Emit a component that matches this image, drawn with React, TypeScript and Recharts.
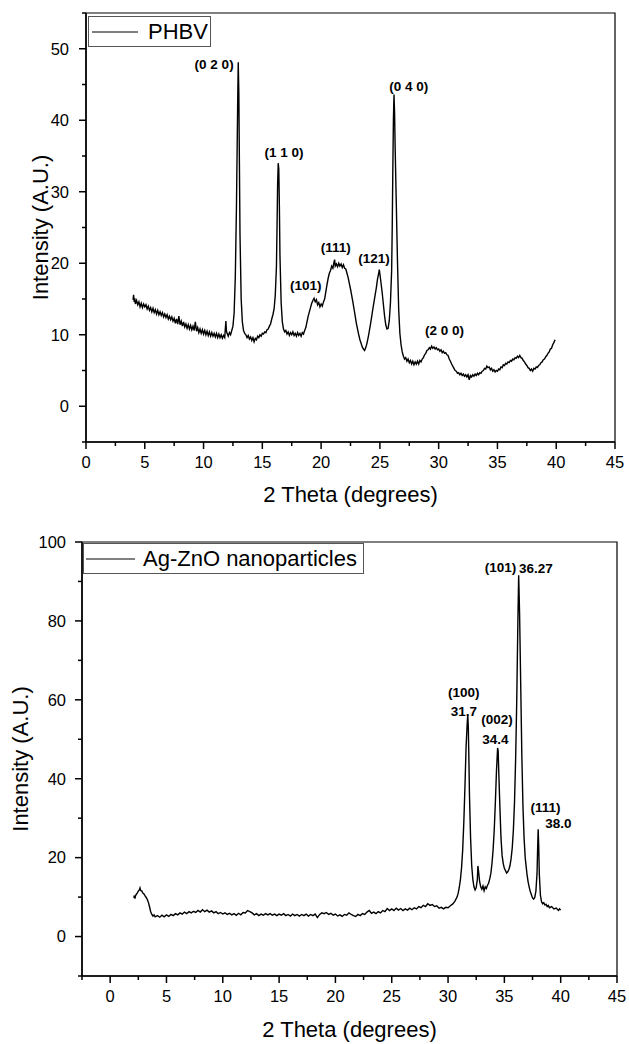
import React from "react";
import {
  LineChart,
  Line,
  XAxis,
  YAxis,
  Legend,
  ReferenceArea,
  ReferenceDot,
} from "recharts";

const FONT = "'Liberation Sans', Arial, Helvetica, sans-serif";

// PHBV pattern: [2θ (deg), intensity (A.U.)]
const phbvPoints: [number, number][] = [
  [4.0, 14.9], [4.05, 15.6], [4.1, 14.6], [4.15, 15.1], [4.2, 14.3], [4.3, 14.8], [4.4, 14.2], [4.5, 14.6],
  [4.6, 13.9], [4.7, 14.4], [4.8, 13.8], [4.9, 14.3], [5.0, 13.9], [5.1, 14.2], [5.2, 13.6], [5.3, 14.0],
  [5.4, 13.4], [5.5, 13.8], [5.6, 13.2], [5.7, 13.7], [5.8, 13.1], [5.9, 13.5], [6.0, 12.9], [6.1, 13.4],
  [6.2, 12.8], [6.3, 13.2], [6.4, 12.7], [6.5, 13.1], [6.6, 12.5], [6.7, 12.9], [6.8, 12.4], [6.9, 12.8],
  [7.0, 12.2], [7.1, 12.6], [7.2, 12.1], [7.3, 12.5], [7.4, 11.9], [7.5, 12.3], [7.6, 11.6], [7.7, 12.2],
  [7.8, 11.5], [7.9, 12.6], [8.0, 11.4], [8.1, 11.9], [8.2, 11.2], [8.3, 11.8], [8.4, 11.1], [8.5, 11.5],
  [8.6, 10.9], [8.7, 11.4], [8.8, 10.8], [8.9, 11.3], [9.0, 10.7], [9.1, 11.2], [9.2, 10.6], [9.3, 11.8],
  [9.4, 10.5], [9.5, 11.0], [9.6, 10.3], [9.7, 10.8], [9.8, 10.2], [9.9, 10.7], [10.0, 10.1], [10.1, 10.6],
  [10.2, 10.0], [10.3, 10.5], [10.4, 9.9], [10.5, 10.4], [10.6, 9.8], [10.7, 10.3], [10.8, 9.8], [10.9, 10.2],
  [11.0, 9.7], [11.1, 10.2], [11.2, 9.6], [11.3, 10.1], [11.4, 9.6], [11.5, 10.0], [11.6, 9.5], [11.7, 9.9],
  [11.8, 9.6], [11.9, 11.9], [11.95, 10.5], [12.0, 10.2], [12.1, 9.8], [12.2, 10.3], [12.3, 10.0], [12.4, 10.6],
  [12.5, 11.2], [12.6, 13.0], [12.7, 18.0], [12.8, 28.0], [12.9, 42.0], [12.95, 48.1], [13.0, 44.0], [13.05, 34.0],
  [13.1, 24.0], [13.2, 15.0], [13.3, 11.8], [13.4, 10.6], [13.5, 10.2], [13.6, 10.0], [13.7, 9.6], [13.8, 9.9],
  [13.9, 9.4], [14.0, 9.7], [14.1, 9.2], [14.2, 9.6], [14.3, 9.0], [14.4, 9.5], [14.5, 9.3], [14.6, 9.8],
  [14.7, 9.6], [14.8, 10.0], [14.9, 9.8], [15.0, 10.2], [15.1, 10.1], [15.2, 10.4], [15.3, 10.3], [15.4, 10.7],
  [15.5, 10.8], [15.6, 11.2], [15.7, 11.5], [15.8, 12.2], [15.9, 12.8], [16.0, 13.6], [16.1, 15.5], [16.2, 19.5],
  [16.25, 25.0], [16.3, 31.0], [16.35, 34.0], [16.4, 33.2], [16.45, 28.0], [16.5, 21.0], [16.6, 14.5], [16.7, 11.8],
  [16.8, 10.8], [16.9, 10.4], [17.0, 10.6], [17.1, 10.1], [17.2, 10.4], [17.3, 9.9], [17.4, 10.3], [17.5, 10.0],
  [17.6, 10.4], [17.7, 9.9], [17.8, 10.2], [17.9, 9.8], [18.0, 10.3], [18.1, 9.9], [18.2, 10.2], [18.3, 9.8],
  [18.4, 10.3], [18.5, 10.1], [18.6, 10.6], [18.7, 11.0], [18.8, 11.8], [18.9, 12.6], [19.0, 13.2], [19.1, 13.8],
  [19.2, 14.4], [19.3, 14.8], [19.4, 15.1], [19.5, 14.6], [19.6, 14.9], [19.7, 14.2], [19.8, 14.5], [19.9, 13.9],
  [20.0, 14.3], [20.1, 14.0], [20.2, 14.6], [20.3, 15.0], [20.4, 16.0], [20.5, 17.0], [20.6, 17.9], [20.7, 18.6],
  [20.8, 19.0], [20.9, 19.6], [21.0, 19.3], [21.1, 20.2], [21.15, 20.5], [21.2, 19.6], [21.3, 19.9], [21.4, 19.5],
  [21.5, 20.0], [21.6, 19.6], [21.7, 19.9], [21.8, 19.4], [21.9, 19.8], [22.0, 19.3], [22.1, 19.2], [22.2, 18.6],
  [22.3, 18.0], [22.4, 17.2], [22.5, 16.4], [22.6, 15.5], [22.7, 14.6], [22.8, 13.6], [22.9, 12.6], [23.0, 11.6],
  [23.1, 10.8], [23.2, 10.0], [23.3, 9.3], [23.4, 8.8], [23.5, 8.3], [23.6, 8.0], [23.7, 7.8], [23.8, 8.2],
  [23.9, 8.8], [24.0, 9.6], [24.1, 10.5], [24.2, 11.5], [24.3, 12.5], [24.4, 13.6], [24.5, 14.6], [24.6, 15.6],
  [24.7, 16.6], [24.8, 17.8], [24.9, 18.6], [24.95, 19.1], [25.0, 18.5], [25.1, 17.2], [25.2, 15.8], [25.3, 14.2],
  [25.4, 12.6], [25.5, 11.4], [25.6, 10.8], [25.7, 10.9], [25.8, 12.0], [25.9, 14.5], [26.0, 19.0], [26.05, 25.0],
  [26.1, 33.0], [26.15, 40.0], [26.2, 43.6], [26.25, 41.0], [26.3, 36.0], [26.4, 28.0], [26.5, 20.0], [26.6, 13.5],
  [26.7, 10.2], [26.8, 8.6], [26.9, 7.6], [27.0, 7.0], [27.1, 6.6], [27.2, 6.8], [27.3, 6.3], [27.4, 6.6],
  [27.5, 6.1], [27.6, 6.4], [27.7, 5.9], [27.8, 6.3], [27.9, 5.8], [28.0, 6.2], [28.1, 5.9], [28.2, 6.3],
  [28.3, 5.9], [28.4, 6.4], [28.5, 6.2], [28.6, 6.6], [28.7, 6.8], [28.8, 7.2], [28.9, 7.4], [29.0, 7.8],
  [29.1, 7.9], [29.2, 8.2], [29.3, 8.0], [29.4, 8.4], [29.5, 8.1], [29.6, 8.3], [29.7, 8.0], [29.8, 8.2],
  [29.9, 7.9], [30.0, 8.0], [30.1, 7.7], [30.2, 7.9], [30.3, 7.5], [30.4, 7.7], [30.5, 7.4], [30.6, 7.5],
  [30.7, 7.2], [30.8, 7.1], [30.9, 6.6], [31.0, 6.3], [31.1, 5.9], [31.2, 5.6], [31.3, 5.3], [31.4, 5.0],
  [31.5, 4.9], [31.6, 4.6], [31.7, 4.7], [31.8, 4.4], [31.9, 4.6], [32.0, 4.3], [32.1, 4.5], [32.2, 4.2],
  [32.3, 4.4], [32.4, 4.1], [32.5, 4.4], [32.6, 3.7], [32.7, 4.3], [32.8, 4.1], [32.9, 4.4], [33.0, 4.2],
  [33.1, 4.5], [33.2, 4.3], [33.3, 4.6], [33.4, 4.4], [33.5, 4.7], [33.6, 4.6], [33.7, 4.9], [33.8, 5.0],
  [33.9, 5.3], [34.0, 5.2], [34.1, 5.6], [34.2, 5.4], [34.3, 5.5], [34.4, 5.1], [34.5, 5.3], [34.6, 4.9],
  [34.7, 5.1], [34.8, 4.8], [34.9, 5.0], [35.0, 4.9], [35.1, 5.2], [35.2, 5.1], [35.3, 5.5], [35.4, 5.4],
  [35.5, 5.8], [35.6, 5.7], [35.7, 6.0], [35.8, 5.9], [35.9, 6.2], [36.0, 6.1], [36.1, 6.4], [36.2, 6.3],
  [36.3, 6.6], [36.4, 6.5], [36.5, 6.8], [36.6, 6.7], [36.7, 7.0], [36.8, 6.8], [36.9, 7.1], [37.0, 6.8],
  [37.1, 6.7], [37.2, 6.4], [37.3, 6.2], [37.4, 5.9], [37.5, 5.7], [37.6, 5.4], [37.7, 5.3], [37.8, 5.0],
  [37.9, 5.2], [38.0, 4.9], [38.1, 5.3], [38.2, 5.2], [38.3, 5.5], [38.4, 5.4], [38.5, 5.7], [38.6, 5.8],
  [38.7, 6.1], [38.8, 6.2], [38.9, 6.5], [39.0, 6.6], [39.1, 6.9], [39.2, 7.1], [39.3, 7.4], [39.4, 7.6],
  [39.5, 8.0], [39.6, 8.1], [39.7, 8.6], [39.8, 8.9], [39.9, 9.3],
];

// Ag-ZnO nanoparticles pattern
const agZnoPoints: [number, number][] = [
  [2.1, 9.8], [2.15, 10.4], [2.2, 9.6], [2.25, 10.3], [2.3, 10.6], [2.4, 11.0], [2.5, 11.5], [2.6, 11.9],
  [2.65, 12.3], [2.7, 11.7], [2.8, 11.6], [2.9, 11.0], [3.0, 10.8], [3.1, 10.3], [3.2, 9.9], [3.3, 9.4],
  [3.4, 8.6], [3.5, 7.5], [3.6, 6.3], [3.7, 5.6], [3.8, 5.2], [3.9, 5.5], [4.0, 5.0], [4.2, 5.3],
  [4.4, 4.9], [4.6, 5.4], [4.8, 5.0], [5.0, 5.5], [5.2, 5.1], [5.4, 5.6], [5.6, 5.3], [5.8, 5.8],
  [6.0, 5.5], [6.2, 6.0], [6.4, 5.7], [6.6, 6.2], [6.8, 5.8], [7.0, 6.3], [7.2, 6.0], [7.4, 6.4],
  [7.6, 6.1], [7.8, 6.6], [8.0, 6.2], [8.2, 6.8], [8.4, 6.3], [8.6, 6.7], [8.8, 6.2], [9.0, 6.5],
  [9.2, 6.0], [9.4, 6.3], [9.6, 5.8], [9.8, 6.1], [10.0, 5.7], [10.2, 6.0], [10.4, 5.6], [10.6, 5.9],
  [10.8, 5.5], [11.0, 5.8], [11.2, 5.4], [11.4, 5.9], [11.6, 5.5], [11.8, 6.1], [12.0, 6.0], [12.2, 6.6],
  [12.4, 6.3], [12.6, 6.0], [12.8, 5.5], [13.0, 5.8], [13.2, 5.3], [13.4, 5.7], [13.6, 5.4], [13.8, 5.8],
  [14.0, 5.5], [14.2, 5.8], [14.4, 5.4], [14.6, 5.7], [14.8, 5.3], [15.0, 5.7], [15.2, 5.4], [15.4, 5.8],
  [15.6, 5.3], [15.8, 5.6], [16.0, 5.2], [16.2, 5.7], [16.4, 5.3], [16.6, 5.6], [16.8, 5.2], [17.0, 5.6],
  [17.2, 5.3], [17.4, 5.7], [17.6, 5.2], [17.8, 5.6], [18.0, 5.3], [18.2, 5.7], [18.4, 4.8], [18.6, 5.6],
  [18.8, 6.0], [19.0, 5.8], [19.2, 6.1], [19.4, 5.6], [19.6, 5.9], [19.8, 5.4], [20.0, 5.7], [20.2, 5.2],
  [20.4, 5.5], [20.6, 5.1], [20.8, 5.6], [21.0, 5.4], [21.2, 6.0], [21.4, 5.6], [21.6, 5.3], [21.8, 5.1],
  [22.0, 5.6], [22.2, 5.3], [22.4, 5.8], [22.6, 5.6], [22.8, 6.2], [23.0, 6.6], [23.2, 5.9], [23.4, 6.2],
  [23.6, 5.8], [23.8, 6.3], [24.0, 6.0], [24.2, 6.6], [24.4, 6.3], [24.6, 7.1], [24.8, 6.6], [25.0, 7.0],
  [25.2, 6.6], [25.4, 7.2], [25.6, 6.7], [25.8, 7.1], [26.0, 6.6], [26.2, 7.0], [26.4, 6.7], [26.6, 7.2],
  [26.8, 6.8], [27.0, 7.3], [27.2, 7.0], [27.4, 7.6], [27.6, 7.3], [27.8, 7.9], [28.0, 7.6], [28.2, 8.3],
  [28.4, 7.9], [28.6, 8.1], [28.8, 7.6], [29.0, 7.8], [29.2, 7.2], [29.4, 7.4], [29.6, 7.0], [29.8, 7.4],
  [30.0, 7.3], [30.2, 7.8], [30.4, 8.2], [30.6, 8.9], [30.8, 10.0], [30.9, 11.0], [31.0, 12.5], [31.1, 14.5],
  [31.2, 17.5], [31.3, 22.0], [31.4, 29.0], [31.5, 38.0], [31.6, 48.0], [31.7, 54.0], [31.75, 56.2], [31.8, 53.0],
  [31.85, 45.0], [31.9, 36.0], [32.0, 25.0], [32.1, 18.0], [32.2, 14.5], [32.3, 12.6], [32.4, 11.8], [32.5, 12.4],
  [32.6, 14.5], [32.65, 17.9], [32.7, 16.8], [32.8, 14.0], [32.9, 12.6], [33.0, 12.0], [33.1, 12.8], [33.2, 11.6],
  [33.3, 12.6], [33.4, 12.2], [33.5, 13.0], [33.6, 13.5], [33.7, 14.6], [33.8, 16.0], [33.9, 18.5], [34.0, 22.0],
  [34.1, 27.0], [34.2, 34.0], [34.3, 42.0], [34.4, 47.8], [34.45, 47.0], [34.5, 42.0], [34.6, 33.0], [34.7, 25.0],
  [34.8, 20.5], [34.9, 18.5], [35.0, 17.3], [35.1, 16.7], [35.2, 16.1], [35.3, 16.4], [35.4, 17.0], [35.5, 18.0],
  [35.6, 19.8], [35.7, 22.5], [35.8, 27.0], [35.9, 34.0], [36.0, 45.0], [36.1, 60.0], [36.2, 80.0], [36.27, 91.6],
  [36.35, 82.0], [36.45, 64.0], [36.55, 46.0], [36.65, 33.0], [36.75, 25.0], [36.85, 20.0], [37.0, 16.0], [37.1, 14.0],
  [37.2, 12.6], [37.3, 11.4], [37.4, 10.6], [37.5, 9.8], [37.6, 9.5], [37.7, 9.9], [37.8, 11.5], [37.9, 16.0],
  [37.95, 22.0], [38.0, 27.2], [38.05, 23.0], [38.1, 16.0], [38.2, 10.5], [38.3, 8.8], [38.4, 8.3], [38.5, 8.6],
  [38.6, 8.0], [38.7, 8.2], [38.8, 7.6], [38.9, 7.9], [39.0, 7.3], [39.2, 7.6], [39.4, 7.0], [39.6, 7.2],
  [39.8, 6.6], [39.9, 7.0], [40.0, 6.7],
];

// peak annotations: [text, 2θ, intensity] where the label is centred
const phbvPeakLabels: [string, number, number][] = [
  ["(0 2 0)", 10.9, 47.8],
  ["(1 1 0)", 16.85, 35.6],
  ["(101)", 18.7, 16.9],
  ["(111)", 21.25, 22.3],
  ["(121)", 24.5, 20.7],
  ["(0 4 0)", 27.45, 44.8],
  ["(2 0 0)", 30.5, 10.6],
];

const agZnoPeakLabels: [string, number, number][] = [
  ["(100)", 31.4, 62.0],
  ["31.7", 31.4, 57.0],
  ["(002)", 34.35, 55.1],
  ["34.4", 34.2, 50.0],
  ["(101)", 34.65, 93.7],
  ["36.27", 37.8, 93.4],
  ["(111)", 38.65, 32.8],
  ["38.0", 39.8, 28.6],
];

const phbvXMajor = [0, 5, 10, 15, 20, 25, 30, 35, 40, 45];
const phbvXMinor = [2.5, 7.5, 12.5, 17.5, 22.5, 27.5, 32.5, 37.5, 42.5];
const phbvYMajor = [0, 10, 20, 30, 40, 50];
const phbvYMinor = [-5, 5, 15, 25, 35, 45, 55];

const agZnoXMajor = [0, 5, 10, 15, 20, 25, 30, 35, 40, 45];
const agZnoXMinor = [-2.5, 2.5, 7.5, 12.5, 17.5, 22.5, 27.5, 32.5, 37.5, 42.5];
const agZnoYMajor = [0, 20, 40, 60, 80, 100];
const agZnoYMinor = [-10, 10, 30, 50, 70, 90];

const toRows = (pts: [number, number][]) => pts.map(([theta, intensity]) => ({ theta, intensity }));

function XTick(props: any) {
  const { x, y, payload, majors } = props;
  const major = majors.includes(payload.value);
  const len = major ? 7 : 4;
  return (
    <g>
      <line x1={x} y1={y} x2={x} y2={y + len} stroke="#000" strokeWidth={1.5} />
      {major && (
        <text x={x} y={y + len + 7} dy="0.71em" textAnchor="middle" fontSize={16.5} fill="#000" fontFamily={FONT}>
          {payload.value}
        </text>
      )}
    </g>
  );
}

function YTick(props: any) {
  const { x, y, payload, majors, gap } = props;
  const major = majors.includes(payload.value);
  const len = major ? 7 : 4;
  return (
    <g>
      <line x1={x} y1={y} x2={x - len} y2={y} stroke="#000" strokeWidth={1.5} />
      {major && (
        <text x={x - len - gap} y={y} dy="0.355em" textAnchor="end" fontSize={16.5} fill="#000" fontFamily={FONT}>
          {payload.value}
        </text>
      )}
    </g>
  );
}

const peakLabel = (text: string) => (props: any) => {
  const vb = props.viewBox;
  return (
    <text
      x={vb.x + vb.width / 2}
      y={vb.y + vb.height / 2}
      dy="0.355em"
      textAnchor="middle"
      fontSize={13.5}
      fontWeight="bold"
      fill="#000"
      fontFamily={FONT}
    >
      {text}
    </text>
  );
};

const xTitle = (bottomGap: number) => (props: any) => {
  const vb = props.viewBox;
  return (
    <text x={vb.x + vb.width / 2} y={vb.y + vb.height - bottomGap} textAnchor="middle" fontSize={22} fill="#000" fontFamily={FONT}>
      2 Theta (degrees)
    </text>
  );
};

const yTitle = (cx: number) => (props: any) => {
  const vb = props.viewBox;
  const cy = vb.y + vb.height / 2;
  return (
    <text
      x={cx}
      y={cy}
      dy="0.355em"
      transform={`rotate(-90, ${cx}, ${cy})`}
      textAnchor="middle"
      fontSize={22}
      fill="#000"
      fontFamily={FONT}
    >
      Intensity (A.U.)
    </text>
  );
};

const legendBox = (name: string, width: number, lineW: number, padL: number, gap: number) => () => (
  <div
    style={{
      boxSizing: "border-box",
      width,
      height: 31,
      border: "1px solid #555",
      background: "#fff",
      display: "flex",
      alignItems: "center",
      paddingLeft: padL,
      fontFamily: FONT,
      fontSize: 22,
      color: "#000",
      whiteSpace: "nowrap",
    }}
  >
    <svg width={lineW} height={4} style={{ marginRight: gap }}>
      <line x1={0} y1={2} x2={lineW} y2={2} stroke="#000" strokeWidth={1} />
    </svg>
    <span>{name}</span>
  </div>
);

export default function App() {
  const phbvData = toRows(phbvPoints);
  const agZnoData = toRows(agZnoPoints);

  return (
    <div style={{ position: "absolute", left: 0, top: 0, width: 629, height: 1044, background: "#fff" }}>
      <div style={{ position: "absolute", left: 0, top: 0 }}>
        <LineChart width={629} height={520} data={phbvData} margin={{ top: 13, right: 14, left: 0, bottom: 0 }}>
          <XAxis
            dataKey="theta"
            type="number"
            domain={[0, 45]}
            allowDataOverflow
            ticks={[...phbvXMajor, ...phbvXMinor]}
            interval={0}
            height={78}
            tickSize={0}
            tickMargin={0}
            tickLine={false}
            axisLine={{ stroke: "#000", strokeWidth: 1.5 }}
            tick={<XTick majors={phbvXMajor} />}
            label={xTitle(18)}
          />
          <YAxis
            type="number"
            domain={[-5, 55]}
            allowDataOverflow
            ticks={[...phbvYMajor, ...phbvYMinor]}
            interval={0}
            width={86}
            tickSize={0}
            tickMargin={0}
            tickLine={false}
            axisLine={{ stroke: "#000", strokeWidth: 1.5 }}
            tick={<YTick majors={phbvYMajor} gap={10} />}
            label={yTitle(40)}
          />
          <ReferenceArea x1={0} x2={45} y1={-5} y2={55} fill="none" stroke="#000" strokeWidth={1.2} />
          <Line
            name="PHBV"
            type="linear"
            dataKey="intensity"
            stroke="#000"
            strokeWidth={1.4}
            dot={false}
            activeDot={false}
            isAnimationActive={false}
          />
          {phbvPeakLabels.map(([text, x, y]) => (
            <ReferenceDot key={text} x={x} y={y} r={1} fill="none" stroke="none" label={peakLabel(text)} />
          ))}
          <Legend
            layout="vertical"
            align="center"
            verticalAlign="middle"
            wrapperStyle={{ position: "absolute", left: 88, top: 16, width: "auto" }}
            content={legendBox("PHBV", 123, 46, 3, 10)}
          />
        </LineChart>
      </div>

      <div style={{ position: "absolute", left: 0, top: 520 }}>
        <LineChart width={629} height={524} data={agZnoData} margin={{ top: 22, right: 12, left: 0, bottom: 0 }}>
          <XAxis
            dataKey="theta"
            type="number"
            domain={[-2.5, 45]}
            allowDataOverflow
            ticks={[...agZnoXMajor, ...agZnoXMinor]}
            interval={0}
            height={68}
            tickSize={0}
            tickMargin={0}
            tickLine={false}
            axisLine={{ stroke: "#000", strokeWidth: 1.5 }}
            tick={<XTick majors={agZnoXMajor} />}
            label={xTitle(7)}
          />
          <YAxis
            type="number"
            domain={[-10, 100]}
            allowDataOverflow
            ticks={[...agZnoYMajor, ...agZnoYMinor]}
            interval={0}
            width={82}
            tickSize={0}
            tickMargin={0}
            tickLine={false}
            axisLine={{ stroke: "#000", strokeWidth: 1.5 }}
            tick={<YTick majors={agZnoYMajor} gap={9} />}
            label={yTitle(20)}
          />
          <ReferenceArea x1={-2.5} x2={45} y1={-10} y2={100} fill="none" stroke="#000" strokeWidth={1.2} />
          <Line
            name="Ag-ZnO nanoparticles"
            type="linear"
            dataKey="intensity"
            stroke="#000"
            strokeWidth={1.4}
            dot={false}
            activeDot={false}
            isAnimationActive={false}
          />
          {agZnoPeakLabels.map(([text, x, y]) => (
            <ReferenceDot key={text + x} x={x} y={y} r={1} fill="none" stroke="none" label={peakLabel(text)} />
          ))}
          <Legend
            layout="vertical"
            align="center"
            verticalAlign="middle"
            wrapperStyle={{ position: "absolute", left: 83, top: 23, width: "auto" }}
            content={legendBox("Ag-ZnO nanoparticles", 281, 49, 2, 8)}
          />
        </LineChart>
      </div>
    </div>
  );
}
